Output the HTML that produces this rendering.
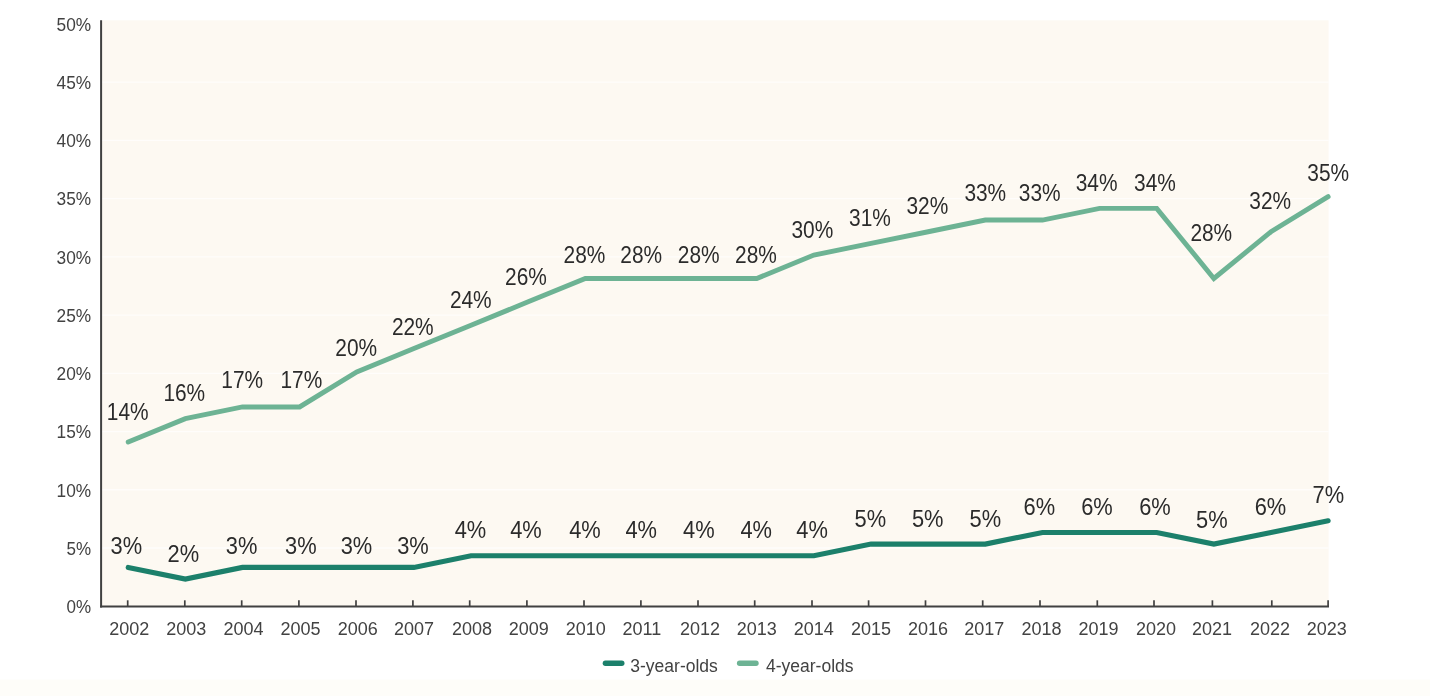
<!DOCTYPE html>
<html lang="en">
<head>
<meta charset="utf-8">
<title>Preschool enrollment, 3- and 4-year-olds, 2002-2023</title>
<style>
html,body{margin:0;padding:0;background:#fff;}
body{width:1430px;height:696px;overflow:hidden;position:relative;font-family:"Liberation Sans", Arial, sans-serif;}
svg{position:absolute;left:0;top:0;display:block;}
text{font-family:"Liberation Sans", Arial, sans-serif;}
.yl{font-size:18px;fill:#424242;text-anchor:end;}
.xl{font-size:18px;fill:#424242;text-anchor:middle;}
.dl{font-size:23px;fill:#2b2b2b;text-anchor:middle;}
.lg{font-size:17.5px;fill:#424242;}
</style>
</head>
<body>
<svg width="1430" height="696" viewBox="0 0 1430 696">
<rect x="0" y="0" width="1430" height="696" fill="#ffffff"/>
<rect x="0" y="679.5" width="1430" height="16.5" fill="#fefdf9"/>
<rect x="101" y="20.3" width="1227.6" height="586.2" fill="#fdf9f2"/>

<g stroke="#ffffff" stroke-opacity="0.7" stroke-width="1.3">
<line x1="102" y1="547.98" x2="1328.6" y2="547.98"/>
<line x1="102" y1="489.76" x2="1328.6" y2="489.76"/>
<line x1="102" y1="431.54" x2="1328.6" y2="431.54"/>
<line x1="102" y1="373.32" x2="1328.6" y2="373.32"/>
<line x1="102" y1="315.10" x2="1328.6" y2="315.10"/>
<line x1="102" y1="256.88" x2="1328.6" y2="256.88"/>
<line x1="102" y1="198.66" x2="1328.6" y2="198.66"/>
<line x1="102" y1="140.44" x2="1328.6" y2="140.44"/>
<line x1="102" y1="82.22" x2="1328.6" y2="82.22"/>
</g>
<g stroke="#414141" stroke-width="2" fill="none">
<line x1="101.1" y1="20.3" x2="101.1" y2="607.6"/>
<line x1="100.05" y1="606.55" x2="1329" y2="606.55"/>
</g>
<g stroke="#414141" stroke-width="1.7" fill="none">
<line x1="127.70" y1="600.3" x2="127.70" y2="606"/>
<line x1="184.80" y1="600.3" x2="184.80" y2="606"/>
<line x1="241.70" y1="600.3" x2="241.70" y2="606"/>
<line x1="298.90" y1="600.3" x2="298.90" y2="606"/>
<line x1="356.00" y1="600.3" x2="356.00" y2="606"/>
<line x1="412.90" y1="600.3" x2="412.90" y2="606"/>
<line x1="469.70" y1="600.3" x2="469.70" y2="606"/>
<line x1="526.90" y1="600.3" x2="526.90" y2="606"/>
<line x1="584.00" y1="600.3" x2="584.00" y2="606"/>
<line x1="640.90" y1="600.3" x2="640.90" y2="606"/>
<line x1="698.00" y1="600.3" x2="698.00" y2="606"/>
<line x1="754.70" y1="600.3" x2="754.70" y2="606"/>
<line x1="812.00" y1="600.3" x2="812.00" y2="606"/>
<line x1="868.60" y1="600.3" x2="868.60" y2="606"/>
<line x1="925.50" y1="600.3" x2="925.50" y2="606"/>
<line x1="982.70" y1="600.3" x2="982.70" y2="606"/>
<line x1="1040.00" y1="600.3" x2="1040.00" y2="606"/>
<line x1="1097.30" y1="600.3" x2="1097.30" y2="606"/>
<line x1="1154.00" y1="600.3" x2="1154.00" y2="606"/>
<line x1="1212.40" y1="600.3" x2="1212.40" y2="606"/>
<line x1="1271.80" y1="600.3" x2="1271.80" y2="606"/>
<line x1="1328.10" y1="600.3" x2="1328.10" y2="606"/>
</g>
<text class="yl" x="91.2" y="613.20" textLength="24.6" lengthAdjust="spacingAndGlyphs">0%</text>
<text class="yl" x="91.2" y="554.93" textLength="24.6" lengthAdjust="spacingAndGlyphs">5%</text>
<text class="yl" x="91.2" y="496.66" textLength="34.6" lengthAdjust="spacingAndGlyphs">10%</text>
<text class="yl" x="91.2" y="438.39" textLength="34.6" lengthAdjust="spacingAndGlyphs">15%</text>
<text class="yl" x="91.2" y="380.12" textLength="34.6" lengthAdjust="spacingAndGlyphs">20%</text>
<text class="yl" x="91.2" y="321.85" textLength="34.6" lengthAdjust="spacingAndGlyphs">25%</text>
<text class="yl" x="91.2" y="263.58" textLength="34.6" lengthAdjust="spacingAndGlyphs">30%</text>
<text class="yl" x="91.2" y="205.31" textLength="34.6" lengthAdjust="spacingAndGlyphs">35%</text>
<text class="yl" x="91.2" y="147.04" textLength="34.6" lengthAdjust="spacingAndGlyphs">40%</text>
<text class="yl" x="91.2" y="88.77" textLength="34.6" lengthAdjust="spacingAndGlyphs">45%</text>
<text class="yl" x="91.2" y="30.50" textLength="34.6" lengthAdjust="spacingAndGlyphs">50%</text>
<text class="xl" x="129.20" y="634.8">2002</text>
<text class="xl" x="186.20" y="634.8">2003</text>
<text class="xl" x="243.50" y="634.8">2004</text>
<text class="xl" x="300.60" y="634.8">2005</text>
<text class="xl" x="357.70" y="634.8">2006</text>
<text class="xl" x="413.90" y="634.8">2007</text>
<text class="xl" x="471.90" y="634.8">2008</text>
<text class="xl" x="528.70" y="634.8">2009</text>
<text class="xl" x="585.80" y="634.8">2010</text>
<text class="xl" x="641.80" y="634.8">2011</text>
<text class="xl" x="699.90" y="634.8">2012</text>
<text class="xl" x="756.70" y="634.8">2013</text>
<text class="xl" x="813.70" y="634.8">2014</text>
<text class="xl" x="870.90" y="634.8">2015</text>
<text class="xl" x="927.90" y="634.8">2016</text>
<text class="xl" x="984.30" y="634.8">2017</text>
<text class="xl" x="1041.60" y="634.8">2018</text>
<text class="xl" x="1098.50" y="634.8">2019</text>
<text class="xl" x="1156.00" y="634.8">2020</text>
<text class="xl" x="1211.90" y="634.8">2021</text>
<text class="xl" x="1269.90" y="634.8">2022</text>
<text class="xl" x="1326.80" y="634.8">2023</text>
<path d="M128.20 441.98 L185.34 418.62 L242.48 406.94 L299.62 406.94 L356.76 371.90 L413.90 348.54 L471.04 325.18 L528.18 301.82 L585.32 278.46 L642.46 278.46 L699.60 278.46 L756.74 278.46 L813.88 255.10 L871.02 243.42 L928.16 231.74 L985.30 220.06 L1042.44 220.06 L1099.58 208.38 L1156.72 208.38 L1213.86 278.46 L1271.00 231.74 L1328.14 196.70" fill="none" stroke="#6db394" stroke-width="4.9" stroke-linejoin="miter" stroke-linecap="round"/>
<path d="M128.20 567.42 L185.34 579.08 L242.48 567.42 L299.62 567.42 L356.76 567.42 L413.90 567.42 L471.04 555.76 L528.18 555.76 L585.32 555.76 L642.46 555.76 L699.60 555.76 L756.74 555.76 L813.88 555.76 L871.02 544.10 L928.16 544.10 L985.30 544.10 L1042.44 532.44 L1099.58 532.44 L1156.72 532.44 L1213.86 544.10 L1271.00 532.44 L1328.14 520.78" fill="none" stroke="#1c806b" stroke-width="5.1" stroke-linejoin="miter" stroke-linecap="round"/>
<text class="dl" x="127.70" y="419.70" textLength="41.8" lengthAdjust="spacingAndGlyphs">14%</text>
<text class="dl" x="184.30" y="401.30" textLength="41.8" lengthAdjust="spacingAndGlyphs">16%</text>
<text class="dl" x="242.20" y="388.20" textLength="41.8" lengthAdjust="spacingAndGlyphs">17%</text>
<text class="dl" x="301.40" y="388.20" textLength="41.8" lengthAdjust="spacingAndGlyphs">17%</text>
<text class="dl" x="356.20" y="356.00" textLength="41.8" lengthAdjust="spacingAndGlyphs">20%</text>
<text class="dl" x="412.80" y="335.30" textLength="41.8" lengthAdjust="spacingAndGlyphs">22%</text>
<text class="dl" x="470.80" y="307.80" textLength="41.8" lengthAdjust="spacingAndGlyphs">24%</text>
<text class="dl" x="526.00" y="285.10" textLength="41.8" lengthAdjust="spacingAndGlyphs">26%</text>
<text class="dl" x="584.50" y="263.40" textLength="41.8" lengthAdjust="spacingAndGlyphs">28%</text>
<text class="dl" x="641.20" y="263.40" textLength="41.8" lengthAdjust="spacingAndGlyphs">28%</text>
<text class="dl" x="698.70" y="263.40" textLength="41.8" lengthAdjust="spacingAndGlyphs">28%</text>
<text class="dl" x="756.00" y="263.40" textLength="41.8" lengthAdjust="spacingAndGlyphs">28%</text>
<text class="dl" x="812.40" y="238.20" textLength="41.8" lengthAdjust="spacingAndGlyphs">30%</text>
<text class="dl" x="870.00" y="226.40" textLength="41.8" lengthAdjust="spacingAndGlyphs">31%</text>
<text class="dl" x="927.40" y="213.50" textLength="41.8" lengthAdjust="spacingAndGlyphs">32%</text>
<text class="dl" x="985.30" y="201.20" textLength="41.8" lengthAdjust="spacingAndGlyphs">33%</text>
<text class="dl" x="1039.70" y="201.20" textLength="41.8" lengthAdjust="spacingAndGlyphs">33%</text>
<text class="dl" x="1096.60" y="191.10" textLength="41.8" lengthAdjust="spacingAndGlyphs">34%</text>
<text class="dl" x="1155.00" y="190.60" textLength="41.8" lengthAdjust="spacingAndGlyphs">34%</text>
<text class="dl" x="1211.30" y="241.10" textLength="41.8" lengthAdjust="spacingAndGlyphs">28%</text>
<text class="dl" x="1270.20" y="208.50" textLength="41.8" lengthAdjust="spacingAndGlyphs">32%</text>
<text class="dl" x="1328.20" y="180.90" textLength="41.8" lengthAdjust="spacingAndGlyphs">35%</text>
<text class="dl" x="126.40" y="554.30" textLength="31.6" lengthAdjust="spacingAndGlyphs">3%</text>
<text class="dl" x="183.30" y="561.80" textLength="31.6" lengthAdjust="spacingAndGlyphs">2%</text>
<text class="dl" x="241.60" y="554.30" textLength="31.6" lengthAdjust="spacingAndGlyphs">3%</text>
<text class="dl" x="300.90" y="554.30" textLength="31.6" lengthAdjust="spacingAndGlyphs">3%</text>
<text class="dl" x="356.50" y="554.30" textLength="31.6" lengthAdjust="spacingAndGlyphs">3%</text>
<text class="dl" x="413.00" y="554.30" textLength="31.6" lengthAdjust="spacingAndGlyphs">3%</text>
<text class="dl" x="470.50" y="538.40" textLength="31.6" lengthAdjust="spacingAndGlyphs">4%</text>
<text class="dl" x="526.00" y="538.40" textLength="31.6" lengthAdjust="spacingAndGlyphs">4%</text>
<text class="dl" x="585.00" y="538.40" textLength="31.6" lengthAdjust="spacingAndGlyphs">4%</text>
<text class="dl" x="641.20" y="538.40" textLength="31.6" lengthAdjust="spacingAndGlyphs">4%</text>
<text class="dl" x="698.80" y="538.40" textLength="31.6" lengthAdjust="spacingAndGlyphs">4%</text>
<text class="dl" x="756.20" y="538.40" textLength="31.6" lengthAdjust="spacingAndGlyphs">4%</text>
<text class="dl" x="812.10" y="538.40" textLength="31.6" lengthAdjust="spacingAndGlyphs">4%</text>
<text class="dl" x="870.40" y="527.30" textLength="31.6" lengthAdjust="spacingAndGlyphs">5%</text>
<text class="dl" x="927.70" y="527.30" textLength="31.6" lengthAdjust="spacingAndGlyphs">5%</text>
<text class="dl" x="985.40" y="527.30" textLength="31.6" lengthAdjust="spacingAndGlyphs">5%</text>
<text class="dl" x="1039.30" y="515.20" textLength="31.6" lengthAdjust="spacingAndGlyphs">6%</text>
<text class="dl" x="1097.00" y="515.20" textLength="31.6" lengthAdjust="spacingAndGlyphs">6%</text>
<text class="dl" x="1155.00" y="515.20" textLength="31.6" lengthAdjust="spacingAndGlyphs">6%</text>
<text class="dl" x="1211.90" y="527.80" textLength="31.6" lengthAdjust="spacingAndGlyphs">5%</text>
<text class="dl" x="1270.50" y="514.70" textLength="31.6" lengthAdjust="spacingAndGlyphs">6%</text>
<text class="dl" x="1328.40" y="503.20" textLength="31.6" lengthAdjust="spacingAndGlyphs">7%</text>
<line x1="605.4" y1="663.3" x2="621.8" y2="663.3" stroke="#1c806b" stroke-width="5.4" stroke-linecap="round"/>
<text class="lg" x="630.3" y="671.5">3-year-olds</text>
<line x1="739.6" y1="663.3" x2="756" y2="663.3" stroke="#6db394" stroke-width="5.4" stroke-linecap="round"/>
<text class="lg" x="766" y="671.5">4-year-olds</text>
</svg>
</body>
</html>
